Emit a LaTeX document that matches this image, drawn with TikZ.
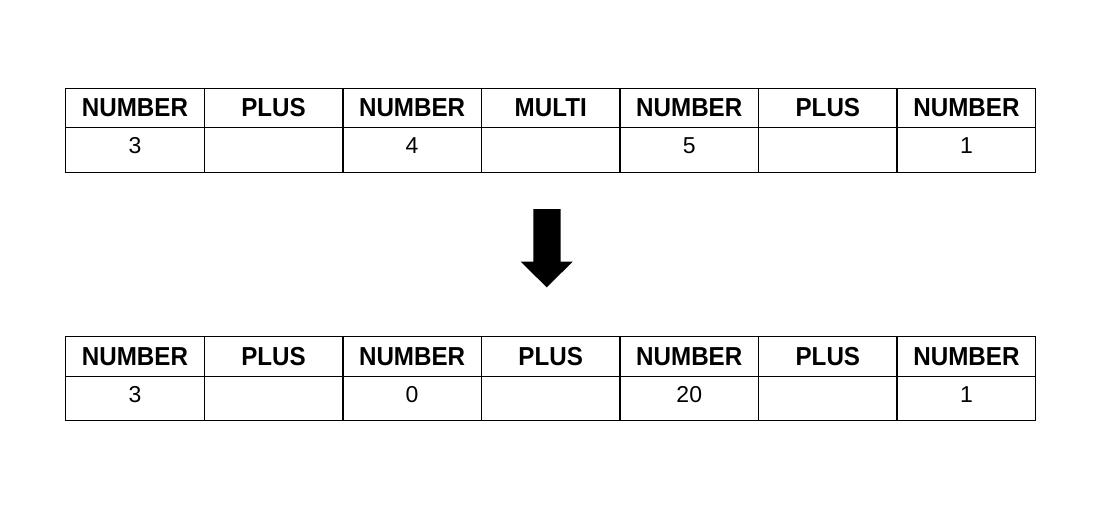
\documentclass[tikz,border=0pt]{standalone}
\usepackage{fontspec}
\setmainfont{Liberation Sans}
\newfontfamily\hdrfont[FakeStretch=0.93]{Liberation Sans}
\begin{document}
\begin{tikzpicture}[x=1pt,y=-1pt,
  cellbox/.style={draw=black,line width=1.4pt,rectangle,inner sep=0pt,anchor=north west,minimum width=138.57pt},
  hdrtext/.style={font=\hdrfont\bfseries\fontsize{26}{28}\selectfont,inner sep=0pt},
  valtext/.style={font=\fontsize{23}{25}\selectfont,inner sep=0pt}]
\useasboundingbox (0,0) rectangle (1107,520);
% top table
\def\hdrsA{NUMBER,PLUS,NUMBER,MULTI,NUMBER,PLUS,NUMBER}
\foreach \h [count=\i] in {NUMBER,PLUS,NUMBER,MULTI,NUMBER,PLUS,NUMBER} {
  \node[cellbox,minimum height=39.5pt] (ah\i) at ({65+(\i-1)*138.57},87.5) {};
  \node[hdrtext] (aht\i) at ([yshift=0.5pt]ah\i.center) {\h};
}
\foreach \v [count=\i] in {3,,4,,5,,1} {
  \node[cellbox,minimum height=44.5pt] (av\i) at ({65+(\i-1)*138.57},127) {};
  \node[valtext] (avt\i) at ([yshift=4pt]av\i.center) {\v};
}
% bottom table
\foreach \h [count=\i] in {NUMBER,PLUS,NUMBER,PLUS,NUMBER,PLUS,NUMBER} {
  \node[cellbox,minimum height=40pt] (bh\i) at ({65+(\i-1)*138.57},336) {};
  \node[hdrtext] (bht\i) at ([yshift=0.5pt]bh\i.center) {\h};
}
\foreach \v [count=\i] in {3,,0,,20,,1} {
  \node[cellbox,minimum height=44pt] (bv\i) at ({65+(\i-1)*138.57},376) {};
  \node[valtext] (bvt\i) at ([yshift=4pt]bv\i.center) {\v};
}
% block arrow
\fill[black] (533.3,209) -- (560.7,209) -- (560.7,261.7) -- (572.7,261.7) -- (546.7,287.3) -- (520.7,261.7) -- (533.3,261.7) -- cycle;
\end{tikzpicture}
\end{document}
